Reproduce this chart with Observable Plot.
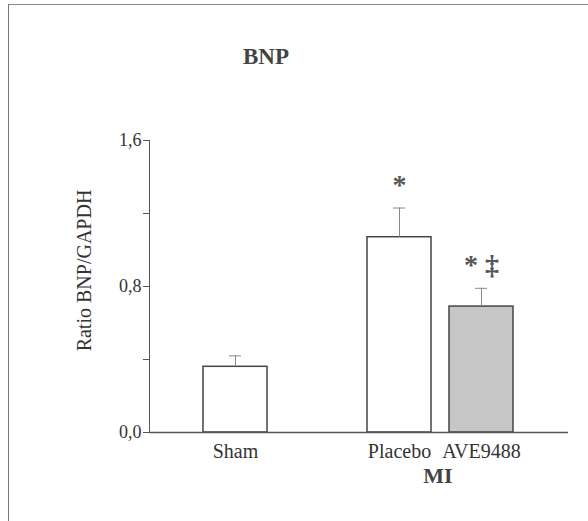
<!DOCTYPE html>
<html><head><meta charset="utf-8">
<script src="https://cdn.jsdelivr.net/npm/d3@7"></script>
<script src="https://cdn.jsdelivr.net/npm/@observablehq/plot@0.6"></script>
<style>
body{margin:0;background:#fff;}
#wrap{position:relative;width:588px;height:521px;overflow:hidden;}
#border{position:absolute;left:8px;top:4px;width:620px;height:620px;border-left:1px solid #777;border-top:1px solid #888;}
#title{position:absolute;top:44px;left:0;width:532px;text-align:center;font:bold 23px "Liberation Serif";color:#444;}
#chart{position:absolute;left:0;top:0;}
</style></head><body>
<div id="wrap"><div id="border"></div><div id="title">BNP</div><div id="chart"></div></div>
<script>
const categories = ["Sham", "Placebo", "AVE9488"];
const xDomain = ["Sham", " ", "Placebo", "AVE9488"];
const means = [0.36, 1.07, 0.69];
const sems = [0.06, 0.16, 0.10];
const sigMarks = ["", "*", "* \u2021"];
const fills = ["white", "white", "#c6c6c6"];
const yTicks = [0, 0.4, 0.8, 1.2, 1.6];
const yTickLabels = {"0": "0,0", "0.8": "0,8", "1.6": "1,6"};
const groupLabel = "MI";
const yLabel = "Ratio BNP/GAPDH";

const data = categories.map((g, i) => ({group: g, mean: means[i], upper: means[i] + sems[i], sig: sigMarks[i], fill: fills[i]}));

const plot = Plot.plot({
  width: 588, height: 521,
  marginTop: 140, marginBottom: 89, marginLeft: 149, marginRight: 20,
  style: {fontFamily: "Liberation Serif", background: "transparent", color: "#333", overflow: "visible"},
  x: {type: "band", domain: xDomain, paddingInner: 0.217, paddingOuter: 0.633, axis: null},
  y: {domain: [0, 1.6], axis: null},
  marks: [
    Plot.axisY({ticks: yTicks, tickSize: 6, tickPadding: 2, fontSize: 18, label: null, stroke: "#555",
      tickFormat: d => yTickLabels[String(d)] ?? ""}),
    Plot.text([yLabel], {frameAnchor: "left", textAnchor: "middle", rotate: -90, dx: -65, dy: -16, fontSize: 20, fill: "#333"}),
    Plot.axisX({tickSize: 0, tickPadding: 11, fontSize: 20, label: null, fill: "#333",
      tickFormat: d => d.trim()}),
    Plot.barY(data, {x: "group", y: "mean", fill: "fill", stroke: "#444", strokeWidth: 1.5}),
    Plot.ruleX(data, {x: "group", y1: "mean", y2: "upper", stroke: "#888"}),
    Plot.tickY(data, {x: "group", y: "upper", insetLeft: 26, insetRight: 26, stroke: "#888"}),
    Plot.text(data, {x: "group", y: "upper", text: "sig", dy: -23, fontSize: 28, fontWeight: "bold", fill: "#555"}),
    Plot.ruleY([0], {stroke: "#555", strokeWidth: 1.5}),
    Plot.frame({anchor: "left", stroke: "#555"})
  ]
});

const xs = plot.scale("x");
const ys = plot.scale("y");
const mx = (xs.apply("Placebo") + xs.apply("AVE9488")) / 2 + xs.bandwidth / 2 - 2;
d3.select(plot).append("text")
  .attr("x", mx).attr("y", ys.apply(0) + 51)
  .attr("text-anchor", "middle")
  .attr("font-family", "Liberation Serif").attr("font-weight", "bold")
  .attr("font-size", 22).attr("fill", "#444")
  .text(groupLabel);

document.getElementById("chart").appendChild(plot);
</script>
</body></html>
